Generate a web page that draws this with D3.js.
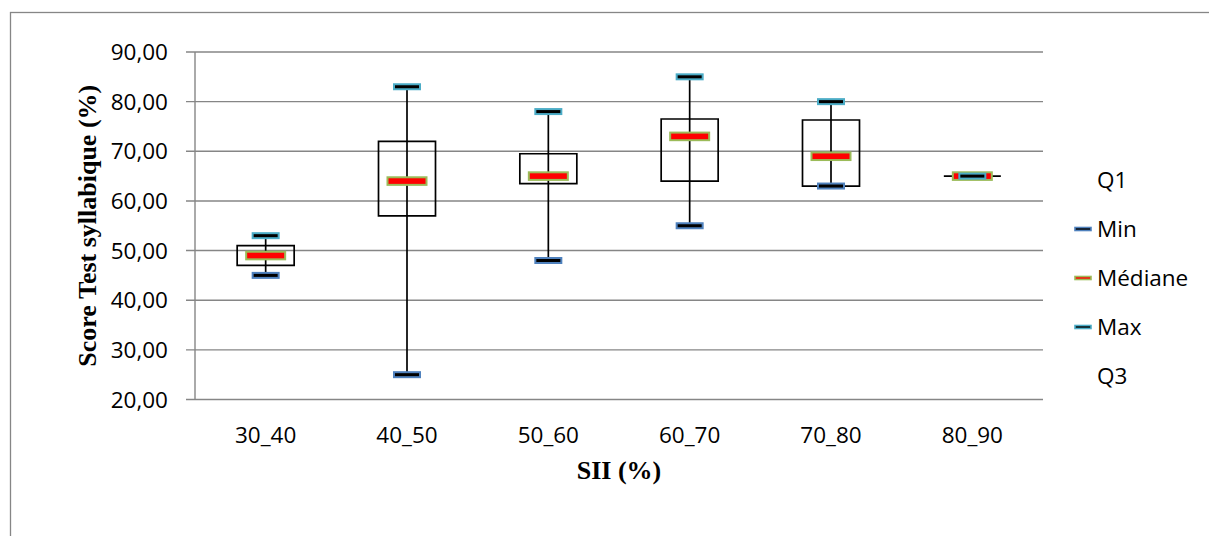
<!DOCTYPE html>
<html><head><meta charset="utf-8">
<script src="https://cdn.jsdelivr.net/npm/d3@7"></script>
<style>body{margin:0;background:#fff}svg{display:block}</style>
</head><body>
<svg id="c" width="1209" height="536"></svg>
<script>
const categories = ["30_40","40_50","50_60","60_70","70_80","80_90"];
const q1Values     = [47, 57, 63.5, 64, 63, 65];
const minValues    = [45, 25, 48, 55, 63, 65];
const medianValues = [49, 64, 65, 73, 69, 65];
const maxValues    = [53, 83, 78, 85, 80, 65];
const q3Values     = [51, 72, 69.5, 76.5, 76.3, 65];
const yTicks = [20,30,40,50,60,70,80,90];
const legendLabels = ["Q1","Min","Médiane","Max","Q3"];

const svg = d3.select("#c");
const grid = "#868686";
const font = "'Open Sans', Lato, sans-serif";
const fs = 22.5;

svg.append("rect").attr("x",10.5).attr("y",12.5).attr("width",1230).attr("height",600)
  .attr("fill","none").attr("stroke",grid).attr("stroke-width",1.3);

const x = d3.scaleBand().domain(categories).range([195,1043]);
const y = d3.scaleLinear().domain([20,90]).range([399.5,52]);

// gridlines
svg.append("g").selectAll("line").data(yTicks).join("line")
  .attr("x1",186).attr("x2",1043).attr("y1",d=>y(d)).attr("y2",d=>y(d))
  .attr("stroke",grid).attr("stroke-width",1.4);
svg.append("line").attr("x1",195).attr("x2",195).attr("y1",y(90)).attr("y2",y(20))
  .attr("stroke",grid).attr("stroke-width",1.4);

// y tick labels
svg.append("g").selectAll("text").data(yTicks).join("text")
  .attr("x",168).attr("y",d=>y(d)).attr("dy","0.36em").attr("text-anchor","end")
  .attr("font-family",font).attr("font-size",fs).attr("fill","#000")
  .text(d=>d3.format(".2f")(d).replace(".",","));

// x labels
svg.append("g").selectAll("text").data(categories).join("text")
  .attr("x",d=>x(d)+x.bandwidth()/2).attr("y",443).attr("text-anchor","middle")
  .attr("font-family",font).attr("font-size",fs).attr("fill","#000").text(d=>d);

// axis titles
svg.append("text").attr("transform",`translate(96,${(y(20)+y(90))/2}) rotate(-90)`)
  .attr("text-anchor","middle").attr("font-family","'Liberation Serif', 'Times New Roman', serif")
  .attr("font-weight","bold").attr("font-size",26).text("Score Test syllabique (%)");
svg.append("text").attr("x",619).attr("y",479).attr("text-anchor","middle")
  .attr("font-family","'Liberation Serif', 'Times New Roman', serif")
  .attr("font-weight","bold").attr("font-size",26).text("SII (%)");

const rows = categories.map((c,i)=>({c, q1:q1Values[i], min:minValues[i], med:medianValues[i], max:maxValues[i], q3:q3Values[i]}));
const cx = d=>x(d.c)+x.bandwidth()/2;
const g = svg.append("g");
// boxes (path so zero-height boxes still show as a line)
g.selectAll(".box").data(rows).join("path").attr("class","box")
  .attr("d",d=>{
    const x0=cx(d)-28.5, x1=cx(d)+28.5, yt=y(Math.max(d.q1,d.q3)), yb=y(Math.min(d.q1,d.q3));
    return yt===yb ? `M${x0},${yt}H${x1}` : `M${x0},${yt}H${x1}V${yb}H${x0}Z`;
  })
  .attr("fill","none").attr("stroke","#000").attr("stroke-width",1.7);
// whiskers
g.selectAll(".wh").data(rows).join("line").attr("class","wh")
  .attr("x1",cx).attr("x2",cx).attr("y1",d=>y(d.max)).attr("y2",d=>y(d.min))
  .attr("stroke","#000").attr("stroke-width",1.7);
// min markers
g.selectAll(".mn").data(rows).join("rect").attr("class","mn")
  .attr("x",d=>cx(d)-13).attr("width",26).attr("y",d=>y(d.min)-2.5).attr("height",5)
  .attr("fill","#000").attr("stroke","#4F81BD").attr("stroke-width",2);
// median markers
g.selectAll(".md").data(rows).join("rect").attr("class","md")
  .attr("x",d=>cx(d)-19.5).attr("width",39).attr("y",d=>y(d.med)-3.8).attr("height",7.6)
  .attr("fill","#FF0000").attr("stroke","#9BBB59").attr("stroke-width",2);
// max markers
g.selectAll(".mx").data(rows).join("rect").attr("class","mx")
  .attr("x",d=>cx(d)-13).attr("width",26).attr("y",d=>y(d.max)-2.5).attr("height",5)
  .attr("fill","#000").attr("stroke","#4BACC6").attr("stroke-width",2);

// legend
const legMarks = [null, {f:"#000",s:"#4F81BD"}, {f:"#FF0000",s:"#9BBB59"}, {f:"#000",s:"#4BACC6"}, null];
const lg = svg.append("g");
legendLabels.forEach((l,i)=>{
  const ly = 180 + i*49;
  if (legMarks[i]) {
    lg.append("rect").attr("x",1075).attr("y",ly-1.5).attr("width",16).attr("height",3)
      .attr("fill",legMarks[i].f).attr("stroke",legMarks[i].s).attr("stroke-width",1.6);
  }
  lg.append("text").attr("x",1097).attr("y",ly).attr("dy","0.36em")
    .attr("font-family",font).attr("font-size",fs).attr("fill","#000").text(l);
});
</script>
</body></html>
